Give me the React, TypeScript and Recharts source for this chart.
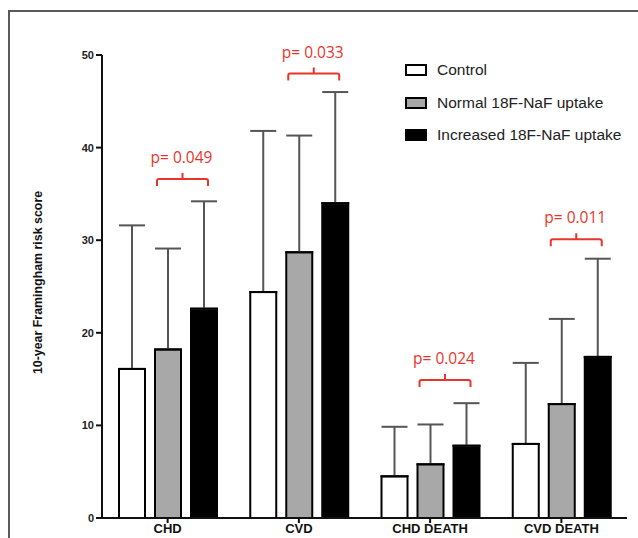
import React from 'react';
import { BarChart, Bar, XAxis, YAxis, ErrorBar, Legend, LabelList } from 'recharts';

// values (means and tops of the SD whiskers)
const categories = ['CHD', 'CVD', 'CHD DEATH', 'CVD DEATH'];
const controlMean = [16.1, 24.4, 4.5, 8.0];
const controlUpper = [31.6, 41.8, 9.85, 16.75];
const normalMean = [18.2, 28.7, 5.8, 12.3];
const normalUpper = [29.1, 41.3, 10.1, 21.5];
const increasedMean = [22.6, 34.0, 7.8, 17.4];
const increasedUpper = [34.2, 46.0, 12.4, 28.0];
const pValues = ['p= 0.049', 'p= 0.033', 'p= 0.024', 'p= 0.011'];
const bracketLevel = [36.6, 48.0, 14.9, 30.1];
const yTicks = [0, 10, 20, 30, 40, 50];

const seriesNames = ['Control', 'Normal 18F-NaF uptake', 'Increased 18F-NaF uptake'];
const seriesFills = ['#ffffff', '#a8a8a8', '#000000'];

const data = categories.map((name, i) => ({
  name,
  control: controlMean[i],
  controlErr: [0, controlUpper[i] - controlMean[i]],
  normal: normalMean[i],
  normalErr: [0, normalUpper[i] - normalMean[i]],
  increased: increasedMean[i],
  increasedErr: [0, increasedUpper[i] - increasedMean[i]],
}));

const BAR_GAP = 10;
const RED = '#e8352b';
const FONT = '"Liberation Sans", Arial, sans-serif';

const geom = (props: any) => {
  const vb = props.viewBox || props;
  return {
    x: vb.x ?? props.x,
    y: vb.y ?? props.y,
    width: vb.width ?? props.width,
    height: vb.height ?? props.height,
  };
};

// redraw the black top edge so the whisker's lower cap does not show on it
const TopEdge = (props: any) => {
  const { x, y, width } = geom(props);
  if (x == null) return null;
  return <line x1={x - 1} x2={x + width + 1} y1={y} y2={y} stroke="#000" strokeWidth={2} />;
};

// bracket + p-value above the normal / increased pair, placed from the black bar geometry
const Bracket = (props: any) => {
  const { x, y, width, height } = geom(props);
  const index = props.index;
  if (x == null || index == null) return null;
  const pxPerUnit = height / increasedMean[index];
  const lineY = y + height - bracketLevel[index] * pxPerUnit;
  const grayLeft = x - BAR_GAP - width;
  const x1 = grayLeft + 2;
  const x2 = x + width / 2 + 4;
  const cx = (x1 + x2) / 2;
  const d = `M${x1},${lineY + 7} L${x1},${lineY + 2} Q${x1},${lineY} ${x1 + 2},${lineY} L${x2 - 2},${lineY} Q${x2},${lineY} ${x2},${lineY + 2} L${x2},${lineY + 7} M${cx},${lineY} L${cx},${lineY - 6}`;
  return (
    <g>
      <path d={d} fill="none" stroke={RED} strokeWidth={2} />
      <text x={cx - 1} y={lineY - 16} textAnchor="middle" fill={RED} fontSize={15.5} fontFamily='"Open Sans", sans-serif'>
        {pValues[index]}
      </text>
    </g>
  );
};

const rowHeights = [32, 33, 32];

const renderLegend = () => (
  <div style={{ fontFamily: FONT, fontSize: 15.5, color: '#222' }}>
    {seriesNames.map((n, i) => (
      <div key={n} style={{ display: 'flex', alignItems: 'center', height: rowHeights[i] }}>
        <div style={{ width: 18, height: 8, border: '2px solid #000', background: seriesFills[i], marginRight: 10 }} />
        <span>{n}</span>
      </div>
    ))}
  </div>
);

const renderYLabel = (props: any) => {
  const vb = props.viewBox;
  const cx = vb.x - 9;
  const cy = vb.y + vb.height / 2 - 4;
  return (
    <text x={cx} y={cy} transform={`rotate(-90 ${cx} ${cy})`} textAnchor="middle" dominantBaseline="central"
      fontSize={12.4} fontWeight="bold" fontFamily={FONT} fill="#111">
      10-year Framingham risk score
    </text>
  );
};

const yTickStyle = { fontSize: 11, fontWeight: 'bold', fill: '#222', fontFamily: FONT };
const xTickStyle = { fontSize: 13, fontWeight: 'bold', fill: '#111', fontFamily: FONT };

export default function App() {
  return (
    <div style={{ position: 'fixed', left: 0, top: 0, width: 638, height: 538, background: '#fff', overflow: 'hidden' }}>
      <div style={{ position: 'absolute', left: 8, top: 10, width: 660, height: 560, borderLeft: '2px solid #5a5a5a', borderTop: '2px solid #5a5a5a' }} />
      <div style={{ position: 'absolute', left: 0, top: 0 }}>
        <BarChart
          width={638}
          height={538}
          data={data}
          margin={{ top: 55, right: 11, bottom: 0, left: 47 }}
          barCategoryGap={17}
          barGap={BAR_GAP}
        >
          <XAxis
            dataKey="name"
            height={20}
            axisLine={{ stroke: '#111', strokeWidth: 2 }}
            tickLine={{ stroke: '#111', strokeWidth: 2 }}
            tickSize={5}
            tickMargin={1}
            tick={xTickStyle}
            interval={0}
          />
          <YAxis
            domain={[0, 50]}
            ticks={yTicks}
            width={55}
            axisLine={{ stroke: '#111', strokeWidth: 2 }}
            tickLine={{ stroke: '#111', strokeWidth: 2 }}
            tickSize={6}
            tick={yTickStyle}
            interval={0}
            label={renderYLabel}
          />
          <Legend
            content={renderLegend}
            layout="vertical"
            align="center"
            verticalAlign="middle"
            wrapperStyle={{ top: 54, left: 405, width: 230, height: 97 }}
          />
          <Bar dataKey="control" fill={seriesFills[0]} stroke="#000" strokeWidth={2} isAnimationActive={false}>
            <ErrorBar dataKey="controlErr" width={13} strokeWidth={2} stroke="#555" direction="y" />
            <LabelList dataKey="control" content={TopEdge} />
          </Bar>
          <Bar dataKey="normal" fill={seriesFills[1]} stroke="#000" strokeWidth={2} isAnimationActive={false}>
            <ErrorBar dataKey="normalErr" width={13} strokeWidth={2} stroke="#555" direction="y" />
            <LabelList dataKey="normal" content={TopEdge} />
          </Bar>
          <Bar dataKey="increased" fill={seriesFills[2]} stroke="#000" strokeWidth={2} isAnimationActive={false}>
            <ErrorBar dataKey="increasedErr" width={13} strokeWidth={2} stroke="#555" direction="y" />
            <LabelList dataKey="increased" content={TopEdge} />
            <LabelList dataKey="increased" content={Bracket} />
          </Bar>
        </BarChart>
      </div>
    </div>
  );
}
